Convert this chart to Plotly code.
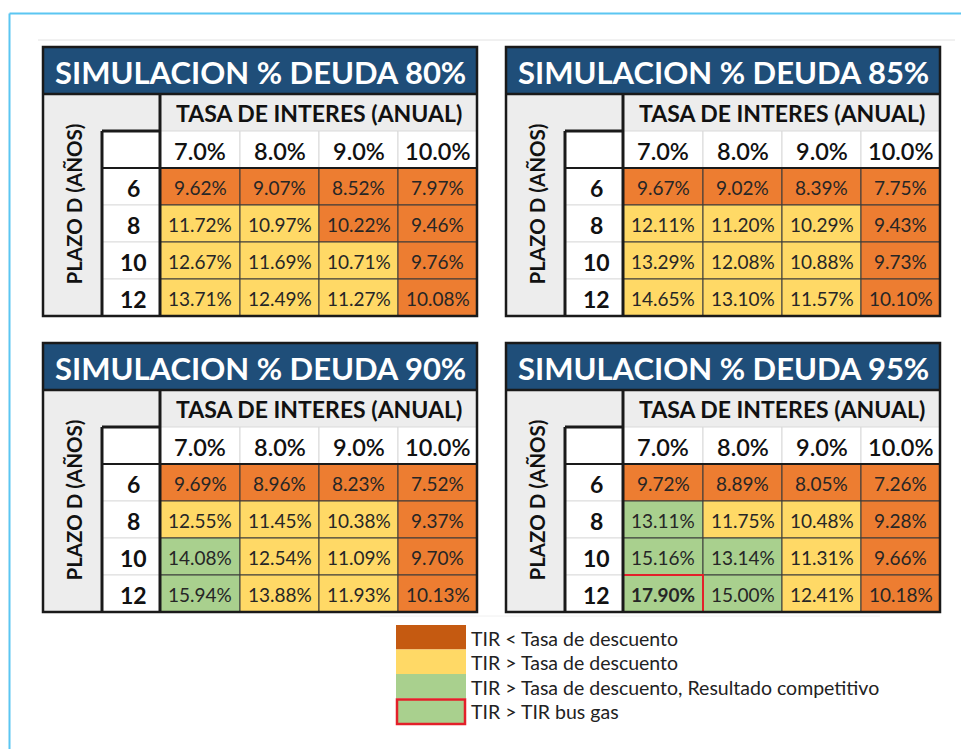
import plotly.graph_objects as go
import numpy as np

# ---------------- data ----------------
DEUDA = ["80%", "85%", "90%", "95%"]
TASAS = ["7.0%", "8.0%", "9.0%", "10.0%"]
PLAZOS = ["6", "8", "10", "12"]

TIR_80 = [[9.62, 9.07, 8.52, 7.97],
          [11.72, 10.97, 10.22, 9.46],
          [12.67, 11.69, 10.71, 9.76],
          [13.71, 12.49, 11.27, 10.08]]
TIR_85 = [[9.67, 9.02, 8.39, 7.75],
          [12.11, 11.20, 10.29, 9.43],
          [13.29, 12.08, 10.88, 9.73],
          [14.65, 13.10, 11.57, 10.10]]
TIR_90 = [[9.69, 8.96, 8.23, 7.52],
          [12.55, 11.45, 10.38, 9.37],
          [14.08, 12.54, 11.09, 9.70],
          [15.94, 13.88, 11.93, 10.13]]
TIR_95 = [[9.72, 8.89, 8.05, 7.26],
          [13.11, 11.75, 10.48, 9.28],
          [15.16, 13.14, 11.31, 9.66],
          [17.90, 15.00, 12.41, 10.18]]

# o: TIR < tasa de descuento, y: TIR > tasa, g: competitivo, G: > TIR bus gas
EST_80 = [["o", "o", "o", "o"], ["y", "y", "o", "o"], ["y", "y", "y", "o"], ["y", "y", "y", "o"]]
EST_85 = [["o", "o", "o", "o"], ["y", "y", "y", "o"], ["y", "y", "y", "o"], ["y", "y", "y", "o"]]
EST_90 = [["o", "o", "o", "o"], ["y", "y", "y", "o"], ["g", "y", "y", "o"], ["g", "y", "y", "o"]]
EST_95 = [["o", "o", "o", "o"], ["g", "y", "y", "o"], ["g", "g", "y", "o"], ["G", "g", "y", "o"]]

LEGEND_LABELS = ["TIR < Tasa de descuento",
                 "TIR > Tasa de descuento",
                 "TIR > Tasa de descuento, Resultado competitivo",
                 "TIR > TIR bus gas"]
LEGEND_KEYS = ["O", "y", "g", "G"]

TIRS = [TIR_80, TIR_85, TIR_90, TIR_95]
ESTS = [EST_80, EST_85, EST_90, EST_95]

# ---------------- style ----------------
FONT = "Lato, 'Open Sans', sans-serif"
FILL = {"o": "#ED7D31", "O": "#C55A11", "y": "#FFD966", "g": "#A9D08E", "G": "#A9D08E"}
NAVY = "#1F4E79"
GREY = "#EDEDED"
BLACK = "#1a1a1a"
RED = "#E3202A"

ORIGINS = [(43, 47), (506, 47), (43, 343), (506, 343)]
COL_W = [59, 58, 80, 79, 79, 79]
TITLE_H = 47
ROW_H = 37
PAGE_OFF = 8  # default body margin of the html page

fig = go.Figure()
shapes = []
annots = []


def rect(x0, y0, x1, y1, fill=None, color=None, width=0, layer="above"):
    d = dict(type="rect", xref="x", yref="y", x0=x0, y0=y0, x1=x1, y1=y1,
             layer=layer, line=dict(width=width, color=color or "rgba(0,0,0,0)"))
    d["fillcolor"] = fill if fill else "rgba(0,0,0,0)"
    shapes.append(d)


def line(x0, y0, x1, y1, color, width):
    shapes.append(dict(type="line", xref="x", yref="y", x0=x0, y0=y0, x1=x1, y1=y1,
                       line=dict(color=color, width=width)))


def text(x, y, s, size, color="#222", bold=False, angle=0, xanchor="center", weight=None):
    f = dict(family=FONT, size=size, color=color)
    if weight is not None:
        f["weight"] = weight
    annots.append(dict(x=x, y=y, xref="x", yref="y", text=(f"<b>{s}</b>" if bold else s),
                       showarrow=False, xanchor=xanchor, yanchor="middle", textangle=angle,
                       font=f))


# outer frame lines
line(9.5, 13.5, 990, 13.5, "#5BC6F2", 2)
line(9.5, 13.5, 9.5, 760, "#5BC6F2", 2)
line(38, 40, 955, 40, "#E2E2E2", 1)
line(380, 616, 880, 616, "#F0F0F0", 1)

for k, (ox, oy) in enumerate(ORIGINS):
    cx = ox + np.concatenate([[0], np.cumsum(COL_W)])
    ry = oy + TITLE_H + ROW_H * np.arange(7)
    right, bottom = cx[-1], ry[-1]
    # title
    rect(ox, oy, right, ry[0], fill=NAVY)
    text((ox + right) / 2, oy + TITLE_H / 2 + 1, f"SIMULACION % DEUDA {DEUDA[k]}", 31, "white", True)
    # grey header area
    rect(ox, ry[0], right, ry[1], fill=GREY)
    rect(ox, ry[0], cx[1], bottom, fill=GREY)
    text((cx[2] + right) / 2, (ry[0] + ry[1]) / 2, "TASA DE INTERES (ANUAL)", 23, "#111", True)
    text((ox + cx[1]) / 2 + 1, (ry[0] + bottom) / 2 - 1, "PLAZO D (AÑOS)", 20.5, "#111", True, angle=-90)
    # rate row
    for j, t in enumerate(TASAS):
        rect(cx[j + 2], ry[1], cx[j + 3], ry[2], fill="white", color="#D9D9D9", width=1)
        text((cx[j + 2] + cx[j + 3]) / 2, (ry[1] + ry[2]) / 2 + 1, t, 23.5, "#111", weight=600)
    rect(cx[1], ry[1], cx[2], ry[2], fill="white")
    # row labels + data
    for i, p in enumerate(PLAZOS):
        rect(cx[1], ry[i + 2], cx[2], ry[i + 3], fill="white", color="#DDDDDD", width=1)
        text((cx[1] + cx[2]) / 2 + 2, (ry[i + 2] + ry[i + 3]) / 2 + 1, p, 23, "#111", True)
        for j in range(len(TASAS)):
            st = ESTS[k][i][j]
            rect(cx[j + 2], ry[i + 2], cx[j + 3], ry[i + 3], fill=FILL[st], color="#3A3A3A", width=1)
            text((cx[j + 2] + cx[j + 3]) / 2, (ry[i + 2] + ry[i + 3]) / 2 + 1,
                 f"{TIRS[k][i][j]:.2f}%", 19, "#262626", bold=(st == "G"))
    # highlight
    for i in range(4):
        for j in range(4):
            if ESTS[k][i][j] == "G":
                rect(cx[j + 2], ry[i + 2], cx[j + 3], ry[i + 3], color=RED, width=2)
    # thick lines
    line(cx[2], ry[0], cx[2], bottom, BLACK, 3)
    line(cx[1], ry[1], cx[1], bottom, BLACK, 3)
    line(cx[1], ry[1], cx[2], ry[1], BLACK, 3)
    line(cx[1], ry[2], right, ry[2], BLACK, 2)
    line(ox, ry[0], right, ry[0], BLACK, 2.5)
    rect(ox, oy, right, bottom, color=BLACK, width=2.5)

# legend
LX0, LX1, LY0, LH = 396, 466, 625, 24.5
for n, (lab, key) in enumerate(zip(LEGEND_LABELS, LEGEND_KEYS)):
    y0 = LY0 + n * LH
    if key == "G":
        rect(LX0 + 1, y0 + 1, LX1 - 1, y0 + LH + 1, fill=FILL[key], color=RED, width=2.5)
    else:
        rect(LX0, y0, LX1, y0 + LH, fill=FILL[key])
    text(LX1 + 3, y0 + LH / 2 + 1, lab, 19.5, "#222", xanchor="left")

fig.update_layout(
    width=969, height=749, margin=dict(l=0, r=0, t=0, b=0),
    paper_bgcolor="white", plot_bgcolor="white",
    xaxis=dict(range=[PAGE_OFF, 969 + PAGE_OFF], visible=False, fixedrange=True),
    yaxis=dict(range=[749 + PAGE_OFF, PAGE_OFF], visible=False, fixedrange=True),
    shapes=shapes, annotations=annots, showlegend=False,
)
fig.write_html("out.html")
